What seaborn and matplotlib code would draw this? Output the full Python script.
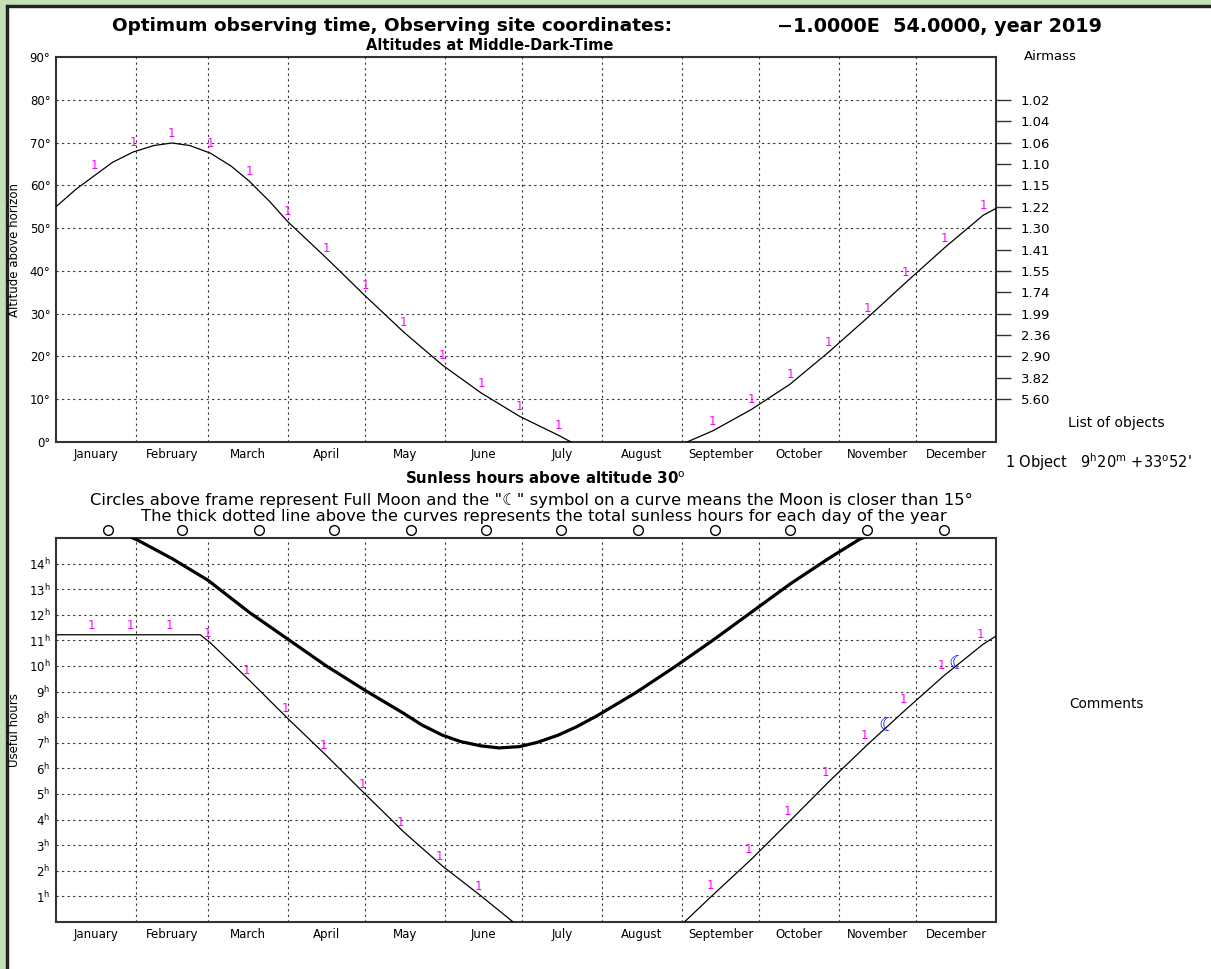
import matplotlib
matplotlib.use("Agg")
import matplotlib.pyplot as plt
import seaborn as sns
from matplotlib.patches import Rectangle

# ------------------------------
# Data (x = day of year 2019)
# ------------------------------
month_names = ["January", "February", "March", "April", "May", "June", "July",
               "August", "September", "October", "November", "December"]
month_starts = [0, 31, 59, 90, 120, 151, 181, 212, 243, 273, 304, 334, 365]

# altitude at middle-dark-time (degrees), two visible pieces
alt_days_a = [0, 8, 15, 22, 30, 38, 45, 52, 60, 68, 75, 83, 90, 105, 120, 135,
              150, 165, 180, 195, 200]
alt_a = [55.0, 59.2, 62.3, 65.4, 67.8, 69.3, 69.9, 69.3, 67.5, 64.5, 61.0, 56.2,
         51.5, 43.0, 34.2, 25.7, 18.0, 11.5, 6.0, 1.6, 0.0]
alt_days_b = [245, 255, 270, 285, 300, 315, 330, 345, 360, 365]
alt_b = [0.0, 2.6, 7.6, 13.5, 21.0, 29.0, 37.3, 45.4, 53.0, 54.6]

airmass_alt = [80, 75, 70, 65, 60, 55, 50, 45, 40, 35, 30, 25, 20, 15, 10]
airmass_labels = ["1.02", "1.04", "1.06", "1.10", "1.15", "1.22", "1.30", "1.41",
                  "1.55", "1.74", "1.99", "2.36", "2.90", "3.82", "5.60"]

# useful hours above 30 deg
use_days_a = [0, 56, 60, 75, 90, 105, 120, 135, 150, 165, 177.5]
use_a = [11.22, 11.22, 10.9, 9.45, 7.95, 6.5, 5.0, 3.52, 2.19, 1.02, 0.0]
use_days_b = [244, 255, 270, 285, 300, 315, 330, 345, 360, 365]
use_b = [0.0, 1.05, 2.45, 3.95, 5.47, 6.92, 8.3, 9.64, 10.85, 11.17]

# total sunless hours (thick line)
dark_days = [0, 15, 32, 45, 59, 75, 90, 105, 120, 135, 142, 150, 157, 165, 172,
             180, 187, 195, 202, 210, 225, 240, 255, 270, 285, 300, 312, 330,
             345, 365]
dark_hours = [16.2, 15.7, 14.9, 14.2, 13.35, 12.1, 11.05, 10.0, 9.05, 8.15, 7.7,
              7.3, 7.05, 6.88, 6.8, 6.85, 7.02, 7.3, 7.62, 8.05, 8.95, 9.95,
              11.0, 12.1, 13.2, 14.2, 14.95, 15.7, 16.1, 16.25]

full_moon_days = [20, 49, 79, 108, 138, 167, 196, 226, 256, 285, 315, 345]
moon_days = [322.6, 349.8]
moon_hours = [7.66, 10.08]

label_days_top = [15, 30, 45, 60, 75, 90, 105, 120, 135, 150, 165, 180, 195,
                  255, 270, 285, 300, 315, 330, 345, 360]
label_days_bot = [15, 30, 45, 60, 75, 90, 105, 120, 135, 150, 165,
                  255, 270, 285, 300, 315, 330, 345, 360]

# ------------------------------
# Figure setup
# ------------------------------
sns.set_style("white")
plt.rcParams['font.family'] = ['DejaVu Sans']
plt.rcParams['text.color'] = 'black'
plt.rcParams['xtick.color'] = 'black'
plt.rcParams['ytick.color'] = 'black'
plt.rcParams['axes.labelcolor'] = 'black'

W, H = 1211, 969
fig = plt.figure(figsize=(W / 100, H / 100), dpi=100)


def fx(px):
    return px / W


def fy(py):
    return 1 - py / H


# green frame strips on left/top
fig.patches.append(Rectangle((0, 0), fx(6), 1, transform=fig.transFigure,
                             color="#c5e0b4", zorder=0))
fig.patches.append(Rectangle((0, fy(5)), 1, 5 / H, transform=fig.transFigure,
                             color="#c5e0b4", zorder=0))
fig.patches.append(Rectangle((fx(6), 0), 2 / W, fy(5), transform=fig.transFigure,
                             color="#222222", zorder=0))
fig.patches.append(Rectangle((fx(6), fy(7)), 1, 2 / H, transform=fig.transFigure,
                             color="#222222", zorder=0))

ax_l, ax_w = fx(56), (996 - 56) / W
ax1 = fig.add_axes([ax_l, fy(442), ax_w, (442 - 57) / H])
ax2 = fig.add_axes([ax_l, fy(922), ax_w, (922 - 538) / H])

grid_style = dict(color="#333333", lw=0.8, ls=(0, (2, 3)), zorder=1)
mid_months = [(month_starts[i] + month_starts[i + 1]) / 2 for i in range(12)]


def style_axes(ax):
    ax.set_xlim(0, 365)
    for d in month_starts[1:-1]:
        ax.axvline(d, **grid_style)
    ax.set_xticks(mid_months)
    ax.set_xticklabels(month_names, fontsize=8.5)
    ax.tick_params(axis="both", length=0, pad=4, labelsize=8.5)
    for s in ax.spines.values():
        s.set_color("#333333")
        s.set_linewidth(1.5)


# ------------------------------
# Top panel: altitudes
# ------------------------------
style_axes(ax1)
ax1.set_ylim(0, 90)
for a in range(10, 90, 10):
    ax1.axhline(a, **grid_style)
ax1.set_yticks(range(0, 91, 10))
ax1.set_yticklabels([f"{a}°" for a in range(0, 91, 10)])

sns.lineplot(x=alt_days_a, y=alt_a, ax=ax1, color="black", lw=0.9, zorder=3)
sns.lineplot(x=alt_days_b, y=alt_b, ax=ax1, color="black", lw=0.9, zorder=3)

alt_days_all = alt_days_a + alt_days_b
alt_all = alt_a + alt_b
for d in label_days_top:
    v = alt_all[alt_days_all.index(d)]
    ax1.annotate("1", (d, v), xytext=(0, 7), textcoords="offset points",
                 color="#ff00ff", fontsize=8.5, ha="center", va="center")

axr = ax1.twinx()
axr.set_ylim(0, 90)
axr.set_yticks(airmass_alt)
axr.set_yticklabels(airmass_labels, fontsize=9.5)
axr.tick_params(axis="y", direction="out", length=11, width=1, pad=7,
                color="#333333")
for s in axr.spines.values():
    s.set_visible(False)

# ------------------------------
# Bottom panel: useful hours
# ------------------------------
style_axes(ax2)
ax2.set_ylim(0, 15)
for h in range(1, 15):
    ax2.axhline(h, **grid_style)
ax2.set_yticks(range(1, 15))
ax2.set_yticklabels([rf"{h}$^{{\rm h}}$" for h in range(1, 15)])

sns.lineplot(x=dark_days, y=dark_hours, ax=ax2, color="black", lw=2.3, zorder=3)
sns.lineplot(x=use_days_a, y=use_a, ax=ax2, color="black", lw=0.9, zorder=3)
sns.lineplot(x=use_days_b, y=use_b, ax=ax2, color="black", lw=0.9, zorder=3)

use_days_all = use_days_a + use_days_b
use_all = use_a + use_b
for d in label_days_bot:
    if d in use_days_all:
        v = use_all[use_days_all.index(d)]
    else:
        v = use_a[0]
    ax2.annotate("1", (d, v), xytext=(-2, 7), textcoords="offset points",
                 color="#ff00ff", fontsize=8.5, ha="center", va="center")

# moon-proximity markers on the curve
for d, h in zip(moon_days, moon_hours):
    ax2.text(d, h, "☾", color="#0000ff", fontsize=14, fontweight="bold",
             ha="center", va="center", zorder=4)

ax2.plot(full_moon_days, [15.31] * len(full_moon_days), ls="none", marker="o",
         ms=7, mfc="white", mec="black", mew=1, clip_on=False)

# ------------------------------
# Texts
# ------------------------------
fig.text(fx(112), fy(26), "Optimum observing time, Observing site coordinates:",
         fontsize=13.3, fontweight="bold", ha="left", va="center")
fig.text(fx(1102), fy(26), "\u22121.0000E  54.0000, year 2019",
         fontsize=13.8, fontweight="bold", ha="right", va="center")
fig.text(fx(490), fy(46), "Altitudes at Middle-Dark-Time", fontsize=10.5,
         fontweight="bold", ha="center", va="center")
fig.text(fx(15), fy(250), "Altitude above horizon", fontsize=8.5,
         rotation=90, ha="center", va="center")
fig.text(fx(1050), fy(57), "Airmass", fontsize=9.5, ha="center", va="center")
fig.text(fx(1116), fy(423), "List of objects", fontsize=10, ha="center",
         va="center")
fig.text(fx(1005), fy(462),
         r"1 Object   9$^{\rm h}$20$^{\rm m}$ +33$^{\rm o}$52'",
         fontsize=10.5, ha="left", va="center")

fig.text(fx(545), fy(479), r"Sunless hours above altitude 30$^{\rm o}$",
         fontsize=10.8, fontweight="bold", ha="center", va="center")
fig.text(fx(531), fy(500),
         "Circles above frame represent Full Moon and the \"☾\" symbol on a "
         "curve means the Moon is closer than 15°",
         fontsize=11.8, ha="center", va="center")
fig.text(fx(544), fy(517),
         "The thick dotted line above the curves represents the total sunless "
         "hours for each day of the year",
         fontsize=11.8, ha="center", va="center")
fig.text(fx(15), fy(730), "Useful hours", fontsize=8.5, rotation=90,
         ha="center", va="center")
fig.text(fx(1106), fy(704), "Comments", fontsize=9.8, ha="center", va="center")

fig.savefig("out.png", dpi=100, facecolor="white")
